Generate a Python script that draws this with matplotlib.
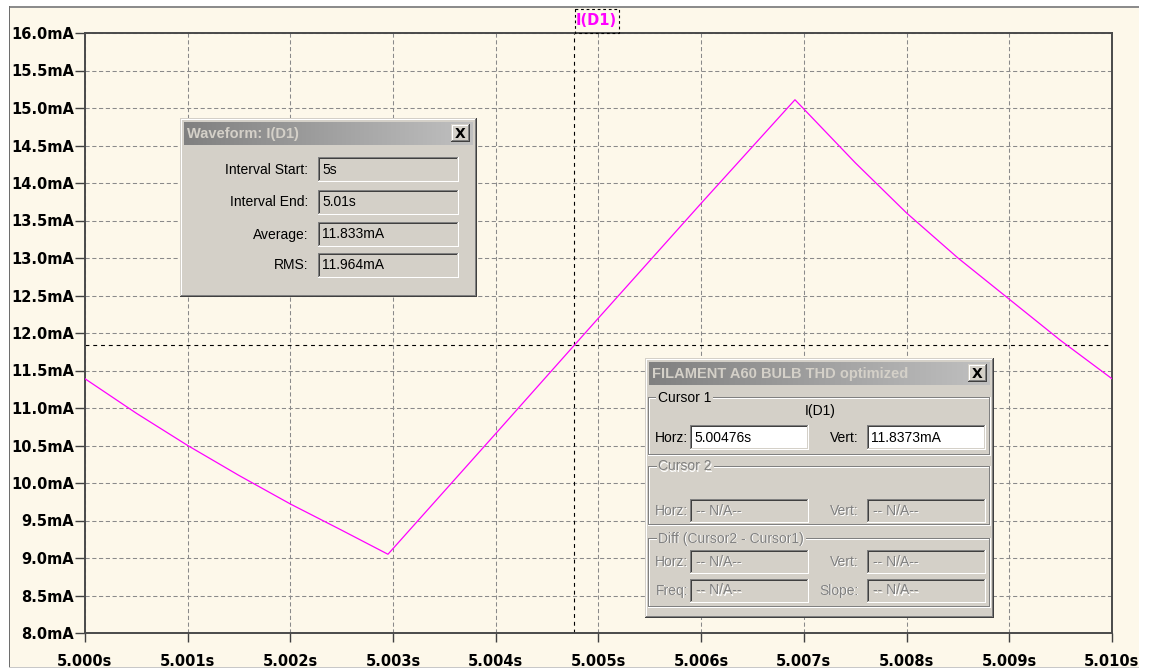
import numpy as np
import matplotlib
matplotlib.use("Agg")
import matplotlib.pyplot as plt
from matplotlib.patches import Rectangle
from matplotlib.colors import LinearSegmentedColormap
from matplotlib import font_manager as fm

# ---------------------------------------------------------------- data
t_s = [5.000, 5.0005, 5.001, 5.0015, 5.002, 5.0025, 5.00295, 5.004, 5.005, 5.006,
       5.006913, 5.0075, 5.008, 5.0085, 5.009, 5.0095, 5.010]
i_mA = [11.39, 10.93, 10.50, 10.10, 9.72, 9.37, 9.05, 10.66, 12.20, 13.73,
        15.11, 14.27, 13.60, 13.00, 12.45, 11.90, 11.39]

x_ticks = [5.000, 5.001, 5.002, 5.003, 5.004, 5.005, 5.006, 5.007, 5.008, 5.009, 5.010]
x_tick_labels = ["5.000s", "5.001s", "5.002s", "5.003s", "5.004s", "5.005s",
                 "5.006s", "5.007s", "5.008s", "5.009s", "5.010s"]
y_ticks = [8.0, 8.5, 9.0, 9.5, 10.0, 10.5, 11.0, 11.5, 12.0, 12.5, 13.0, 13.5,
           14.0, 14.5, 15.0, 15.5, 16.0]
y_tick_labels = ["8.0mA", "8.5mA", "9.0mA", "9.5mA", "10.0mA", "10.5mA", "11.0mA",
                 "11.5mA", "12.0mA", "12.5mA", "13.0mA", "13.5mA", "14.0mA",
                 "14.5mA", "15.0mA", "15.5mA", "16.0mA"]

trace_name = "I(D1)"
cursor_time = 5.00476
cursor_value = 11.8373

measure_title = "Waveform: I(D1)"
measure_labels = ["Interval Start:", "Interval End:", "Average:", "RMS:"]
measure_values = ["5s", "5.01s", "11.833mA", "11.964mA"]

cursor_title = "FILAMENT A60 BULB THD optimized"
not_available = "-- N/A--"

# ---------------------------------------------------------------- fonts
W, H = 1153, 668
installed = {f.name for f in fm.fontManager.ttflist}
if "Liberation Sans Narrow" in installed:
    UI_FONT, UI_SIZE, TITLE_SIZE = "Liberation Sans Narrow", 12.0, 12.5
else:
    UI_FONT, UI_SIZE, TITLE_SIZE = "Liberation Sans", 10.0, 10.5

CREAM = "#FDF8EA"
FACE = "#D4D0C8"
WHITE = "#FFFFFF"
SHADOW = "#808080"
DARK = "#404040"
MAGENTA = "#FF00FF"

fig = plt.figure(figsize=(W / 100, H / 100), dpi=100)
fig.patch.set_facecolor("white")


def pixel_axes(z):
    a = fig.add_axes([0, 0, 1, 1], zorder=z)
    a.set_xlim(0, W)
    a.set_ylim(H, 0)
    a.axis("off")
    return a


# ---------------------------------------------------------------- window background
bg = pixel_axes(0)
bg.add_patch(Rectangle((9, 7), 1130, 660, fc=CREAM, ec="none", lw=0))
bg.add_patch(Rectangle((9, 6), 1130, 1.5, fc="#8C8C8C", ec="none", lw=0))
bg.add_patch(Rectangle((8.5, 6), 1.5, 661, fc="#6E6E6E", ec="none", lw=0))
bg.add_patch(Rectangle((9, 666.5), 1130, 1.5, fc="#C8C8C8", ec="none", lw=0))

# ---------------------------------------------------------------- plot
L, R, T, B = 85, 1112, 33, 633
ax = fig.add_axes([L / W, 1 - B / H, (R - L) / W, (B - T) / H], zorder=1)
ax.set_facecolor("none")
ax.set_xlim(x_ticks[0], x_ticks[-1])
ax.set_ylim(y_ticks[0], y_ticks[-1])
ax.set_xticks(x_ticks, labels=x_tick_labels, fontweight="bold", fontsize=10.5,
              fontfamily="DejaVu Sans")
ax.set_yticks(y_ticks, labels=y_tick_labels, fontweight="bold", fontsize=10.5,
              fontfamily="DejaVu Sans")
ax.tick_params(axis="y", direction="out", length=7.2, width=1.0, color="#404040", pad=0.5)
ax.tick_params(axis="x", direction="out", length=6.5, width=1.0, color="#404040", pad=8.5)
ax.grid(True, color="#8A8A8A", lw=0.75, ls=(0, (4, 2.5)))
ax.set_axisbelow(True)
for sp in ax.spines.values():
    sp.set_color("#4A4A4A")
    sp.set_linewidth(1.4)

ax.plot(t_s, i_mA, color=MAGENTA, lw=0.9, zorder=3)

# cursor cross-hair
ax.axvline(cursor_time, color="black", lw=0.8, ls=(0, (3.5, 3.5)), zorder=2)
ax.axhline(cursor_value, color="black", lw=0.8, ls=(0, (3.5, 3.5)), zorder=2)

# ---------------------------------------------------------------- overlay (pixel units)
ov = pixel_axes(2)

# trace label above the plot
ov.add_patch(Rectangle((574.5, 8.5), 44, 24, fc="none", ec="black", lw=0.8,
                       ls=(0, (2.5, 2.5)), zorder=2))
ov.text(596.5, 20.5, trace_name, ha="center", va="center", color=MAGENTA,
        fontsize=10.5, fontweight="bold", fontfamily="DejaVu Sans", zorder=3)


def fill(x0, y0, x1, y1, c, z=1):
    ov.add_patch(Rectangle((x0, y0), x1 - x0, y1 - y0, fc=c, ec="none", lw=0,
                           antialiased=False, zorder=z))


def raised(x0, y0, x1, y1, face=FACE, z=1):
    fill(x0, y0, x1, y1, DARK, z)
    fill(x0, y0, x1 - 1, y1 - 1, FACE, z)
    fill(x0 + 1, y0 + 1, x1 - 1, y1 - 1, SHADOW, z)
    fill(x0 + 1, y0 + 1, x1 - 2, y1 - 2, WHITE, z)
    fill(x0 + 2, y0 + 2, x1 - 2, y1 - 2, face, z)


def sunken(x0, y0, x1, y1, face=FACE):
    fill(x0, y0, x1, y1, WHITE)
    fill(x0, y0, x1 - 1, y1 - 1, SHADOW)
    fill(x0 + 1, y0 + 1, x1 - 1, y1 - 1, FACE)
    fill(x0 + 1, y0 + 1, x1 - 2, y1 - 2, DARK)
    fill(x0 + 2, y0 + 2, x1 - 2, y1 - 2, face)


def ui_text(x, y, s, ha="left", enabled=True, **kw):
    if enabled:
        ov.text(x, y, s, ha=ha, va="center", color="black", fontfamily=UI_FONT,
                fontsize=UI_SIZE, zorder=4, **kw)
    else:
        ov.text(x + 1, y + 1, s, ha=ha, va="center", color=WHITE, fontfamily=UI_FONT,
                fontsize=UI_SIZE, zorder=4, **kw)
        ov.text(x, y, s, ha=ha, va="center", color=SHADOW, fontfamily=UI_FONT,
                fontsize=UI_SIZE, zorder=5)


title_cmap = LinearSegmentedColormap.from_list("inactive", ["#808080", "#C0C0C0"])


def window(x0, y0, x1, y1, title):
    raised(x0, y0, x1, y1)
    tx0, ty0, tx1, ty1 = x0 + 4, y0 + 4, x1 - 4, y0 + 27
    ov.imshow(np.linspace(0, 1, 256)[None, :], cmap=title_cmap, aspect="auto",
              extent=(tx0, tx1, ty1, ty0), interpolation="bilinear", zorder=2)
    ov.text(tx0 + 3, (ty0 + ty1) / 2 + 0.5, title, ha="left", va="center",
            color=FACE, fontfamily=UI_FONT, fontsize=TITLE_SIZE, fontweight="bold",
            zorder=4)
    bx1, by0 = tx1 - 3, ty0 + 2
    raised(bx1 - 19, by0, bx1, by0 + 18, z=3)
    ov.text(bx1 - 9.5, by0 + 9.5, "X", ha="center", va="center", color="black",
            fontfamily="DejaVu Sans", fontsize=10, fontweight="bold", zorder=4)


def group(x0, y0, x1, y1, label, enabled):
    fill(x0, y0, x1 - 1, y0 + 1, SHADOW)
    fill(x0, y0, x0 + 1, y1 - 1, SHADOW)
    fill(x0, y1 - 2, x1 - 1, y1 - 1, SHADOW)
    fill(x1 - 2, y0, x1 - 1, y1 - 1, SHADOW)
    fill(x0 + 1, y0 + 1, x1 - 2, y0 + 2, WHITE)
    fill(x0 + 1, y0 + 1, x0 + 2, y1 - 2, WHITE)
    fill(x0, y1 - 1, x1, y1, WHITE)
    fill(x1 - 1, y0, x1, y1, WHITE)
    ui_text(x0 + 10, y0 + 0.5, label, enabled=enabled,
            bbox=dict(fc=FACE, ec="none", pad=1.2))


ov.set_xlim(0, W)
ov.set_ylim(H, 0)

# measurement window
window(180, 118, 477, 297, measure_title)
for yc, lab, val in zip([169.5, 202.0, 234.5, 265.0], measure_labels, measure_values):
    ui_text(308, yc, lab, ha="right")
    sunken(318, yc - 12.5, 459, yc + 12.5, FACE)
    ui_text(322, yc, val)

# cursor window
window(645, 358, 994, 618, cursor_title)

group(648, 397, 991, 456, "Cursor 1", True)
ui_text(820, 411, trace_name, ha="center")
ui_text(688, 437.5, "Horz:", ha="right")
sunken(690, 425, 809, 450, WHITE)
ui_text(694, 437.5, f"{cursor_time:.5f}s")
ui_text(859, 437.5, "Vert:", ha="right")
sunken(867, 425, 986, 450, WHITE)
ui_text(871, 437.5, f"{cursor_value:.4f}mA")

group(648, 466, 991, 526, "Cursor 2", False)
ui_text(688, 511, "Horz:", ha="right", enabled=False)
sunken(690, 499, 809, 523)
ui_text(696, 511, not_available, enabled=False)
ui_text(859, 511, "Vert:", ha="right", enabled=False)
sunken(867, 499, 986, 523)
ui_text(873, 511, not_available, enabled=False)

group(648, 538, 991, 608, "Diff (Cursor2 - Cursor1)", False)
for yc, left_lab, right_lab in [(562.0, "Horz:", "Vert:"), (590.5, "Freq:", "Slope:")]:
    ui_text(688, yc, left_lab, ha="right", enabled=False)
    sunken(690, yc - 12, 809, yc + 12)
    ui_text(696, yc, not_available, enabled=False)
    ui_text(859, yc, right_lab, ha="right", enabled=False)
    sunken(867, yc - 12, 986, yc + 12)
    ui_text(873, yc, not_available, enabled=False)

ov.set_xlim(0, W)
ov.set_ylim(H, 0)

fig.savefig("out.png", dpi=100, facecolor=fig.get_facecolor())
